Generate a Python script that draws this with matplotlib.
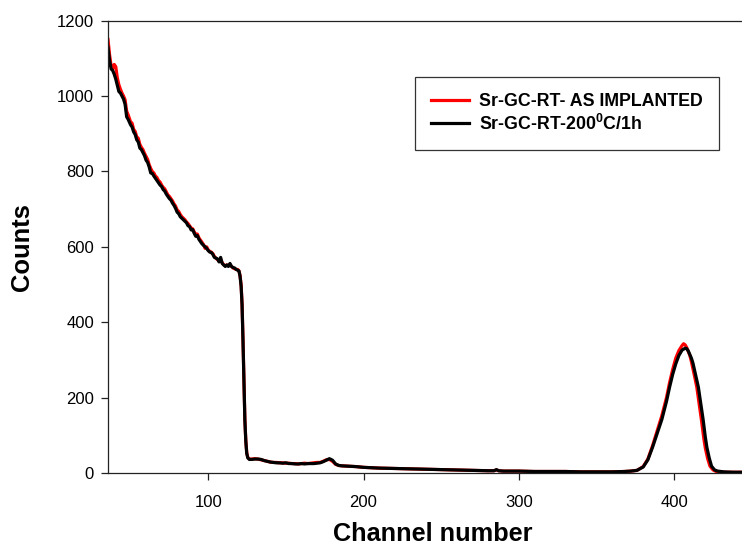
import matplotlib
matplotlib.use("Agg")
import matplotlib.pyplot as plt

# ---- data ----
# channel grids per region of the spectrum
head_ch = [35.5, 36.5, 37.5, 38.5, 39.5, 40.5, 41.5, 42.5, 43.5, 44.5, 45.5, 46.5, 47.5, 48.5,
           50, 51, 52, 53, 54, 55, 56, 57, 58, 59,
           60, 61, 62, 63, 64, 65, 66, 67, 68, 69,
           70, 71, 72, 73, 74, 75, 76, 77, 78, 79,
           80, 81, 82, 83, 84, 85, 86, 87, 88, 89,
           90, 91, 92, 93, 94, 95, 96, 97, 98, 99,
           100, 101, 102, 103, 104, 105, 106, 107, 108, 109,
           110, 111, 112, 113, 114, 115, 116, 117, 118, 119]
edge_ch = [119.8, 120.5, 121.2, 121.8, 122.4, 123.0, 123.6, 124.2, 124.8, 125.5, 126.5]
tail_ch = [128, 130, 132, 134, 136, 138, 140, 142, 144, 146,
           148, 150, 152, 154, 156, 158, 160, 162, 164, 166,
           168, 170, 172, 174, 176, 178, 180, 182, 184, 186,
           190, 195, 200, 210, 220, 230, 240, 250, 260, 270, 280, 284, 285.5, 287,
           290, 300, 310, 320, 330, 340, 350, 360, 368]
peak_ch_annealed = [372, 376, 380, 383, 386, 389, 392, 395, 397, 399, 401, 403, 405, 407, 408,
                    409, 411, 412, 414, 415.5, 417, 418.6, 420, 421, 422.5, 424, 426, 428, 432,
                    438, 445]
peak_ch_implanted = [372, 376, 380, 383, 386, 389, 392, 395, 397, 399, 401, 403, 405, 406, 407,
                     408, 410, 411, 413, 414.5, 416, 417.5, 419, 420, 421.5, 423, 425, 427, 431,
                     438, 445]

# counts: Sr-GC-RT-200C/1h (black)
head_annealed = [1130, 1095, 1072, 1068, 1058, 1045, 1028, 1012, 1008, 1000, 992, 978, 945, 938,
                 924, 918, 905, 898, 884, 878, 862, 858, 850, 842,
                 830, 824, 812, 796, 795, 788, 782, 776, 770, 764,
                 760, 752, 748, 740, 734, 728, 724, 716, 710, 702,
                 692, 688, 680, 676, 672, 668, 664, 656, 654, 645,
                 646, 636, 628, 630, 620, 614, 608, 604, 600, 596,
                 590, 586, 585, 580, 572, 570, 568, 560, 572, 556,
                 552, 548, 552, 548, 556, 548, 545, 544, 540, 538]
edge_annealed = [536, 522, 495, 445, 350, 240, 140, 85, 52, 40, 36]
tail_annealed = [36, 37, 37, 36, 33, 31, 29, 28, 27, 27,
                 26, 27, 25, 25, 24, 24, 25, 24, 25, 25,
                 25, 26, 27, 30, 34, 38, 34, 24, 20, 19,
                 18, 17, 15, 13, 12, 11, 10, 9, 8, 7, 6, 6, 9, 6,
                 5, 5, 4, 4, 4, 3, 3, 3, 4]
peak_annealed = [5, 7, 16, 35, 68, 105, 142, 190, 228, 262, 290, 312, 326, 331, 330,
                 324, 305, 292, 255, 228, 185, 141, 95, 68, 40, 18, 8, 5, 3, 2, 2]

# counts: Sr-GC-RT- AS IMPLANTED (red)
head_implanted = [1150, 1110, 1080, 1072, 1084, 1078, 1048, 1030, 1018, 1008, 1000, 990, 960, 950,
                  932, 928, 912, 906, 892, 888, 872, 864, 858, 848,
                  840, 832, 818, 808, 800, 796, 788, 784, 776, 772,
                  764, 758, 754, 746, 738, 734, 728, 722, 714, 708,
                  698, 694, 686, 680, 676, 672, 666, 662, 656, 650,
                  648, 640, 632, 634, 624, 618, 612, 606, 596, 600,
                  592, 588, 586, 582, 574, 570, 566, 562, 566, 558,
                  552, 550, 552, 550, 552, 548, 544, 542, 540, 540]
edge_implanted = [536, 524, 498, 448, 354, 244, 142, 86, 54, 41, 37]
tail_implanted = [37, 38, 37, 35, 33, 31, 29, 28, 28, 27,
                  27, 26, 26, 25, 25, 24, 25, 26, 25, 26,
                  27, 28, 28, 31, 35, 36, 31, 23, 20, 19,
                  18, 17, 15, 13, 12, 11, 10, 9, 8, 7, 6, 6, 8, 6,
                  5, 5, 4, 4, 4, 3, 3, 3, 4]
peak_implanted = [5, 7, 17, 37, 72, 112, 152, 200, 240, 275, 305, 325, 338, 343, 340,
                  333, 312, 296, 258, 228, 185, 140, 92, 66, 38, 18, 8, 4, 2, 2, 2]

label_implanted = "Sr-GC-RT- AS IMPLANTED"
label_annealed = r"Sr-GC-RT-200$\mathbf{^0}$C/1h"

x_ticks = [100, 200, 300, 400]
y_ticks = [0, 200, 400, 600, 800, 1000, 1200]

ch_annealed = head_ch + edge_ch + tail_ch + peak_ch_annealed
cnt_annealed = head_annealed + edge_annealed + tail_annealed + peak_annealed
ch_implanted = head_ch + edge_ch + tail_ch + peak_ch_implanted
cnt_implanted = head_implanted + edge_implanted + tail_implanted + peak_implanted

# ---- figure ----
plt.rcParams["font.family"] = ["Liberation Sans", "DejaVu Sans"]
plt.rcParams["mathtext.fontset"] = "custom"
plt.rcParams["mathtext.rm"] = "Liberation Sans"
plt.rcParams["mathtext.bf"] = "Liberation Sans:bold"

fig = plt.figure(figsize=(7.42, 5.5), dpi=100)
ax = fig.add_axes([108 / 742, 77 / 550, 1 - 108 / 742, 452.3 / 550])

ax.plot(ch_implanted, cnt_implanted, color="#ff0000", lw=2.3, label=label_implanted,
        solid_joinstyle="round")
ax.plot(ch_annealed, cnt_annealed, color="black", lw=2.3, label=label_annealed,
        solid_joinstyle="round")

ax.set_xlim(35.5, 443.6)
ax.set_ylim(0, 1200)
ax.set_xticks(x_ticks)
ax.set_yticks(y_ticks)
ax.tick_params(direction="out", length=5, width=0.9, labelsize=12, color="#222222")
ax.tick_params(axis="x", pad=11)
ax.tick_params(axis="y", pad=5)
for s in ("left", "bottom", "top"):
    ax.spines[s].set_linewidth(0.9)
    ax.spines[s].set_color("#222222")
ax.spines["right"].set_visible(False)

ax.set_xlabel("Channel number", fontsize=18.2, fontweight="bold")
ax.xaxis.set_label_coords((433 - 108) / (742 - 108), -0.109)
ax.xaxis.label.set_va("top")
ax.set_ylabel("Counts", fontsize=18.4, fontweight="bold", labelpad=16.5)

leg = ax.legend(loc="upper left", bbox_to_anchor=(415 / 742, 1 - 77 / 550),
                bbox_transform=fig.transFigure, frameon=True, fancybox=False,
                prop={"weight": "bold", "size": 12.8}, handlelength=2.15,
                handletextpad=0.56, borderpad=0.9, borderaxespad=0,
                labelspacing=0.2)
leg.get_frame().set_edgecolor("black")
leg.get_frame().set_linewidth(0.9)
for line in leg.get_lines():
    line.set_linewidth(2.3)

fig.savefig("out.png", dpi=100)
